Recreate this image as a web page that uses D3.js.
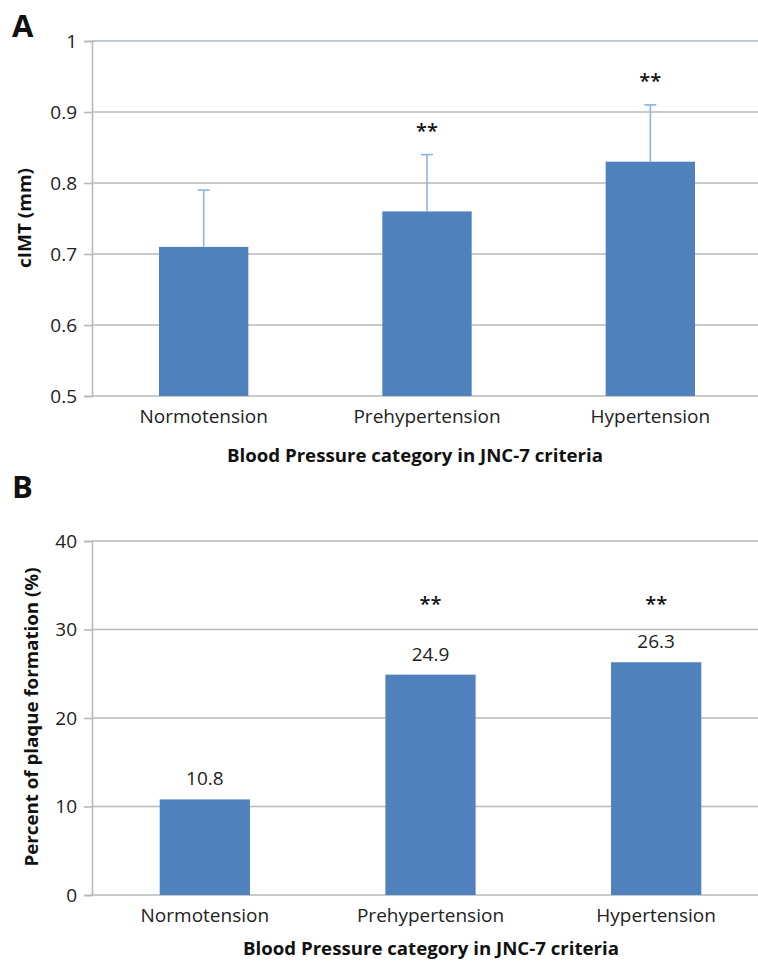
<!DOCTYPE html>
<html><head><meta charset="utf-8">
<script src="https://cdn.jsdelivr.net/npm/d3@7"></script>
<style>body{margin:0;background:#fff}svg{display:block}text{font-family:"Open Sans",sans-serif}</style>
</head><body><svg id="c" width="758" height="962"></svg>
<script>
const categories = ["Normotension", "Prehypertension", "Hypertension"];
const cimtMean = [0.71, 0.76, 0.83];
const cimtSD = [0.08, 0.08, 0.08];
const cimtSig = ["", "**", "**"];
const cimtTicks = [0.5, 0.6, 0.7, 0.8, 0.9, 1];
const plaquePct = [10.8, 24.9, 26.3];
const plaqueSig = ["", "**", "**"];
const plaqueSigLevel = 33;
const plaqueTicks = [0, 10, 20, 30, 40];

const svg = d3.select("#c");
const BAR = "#4F81BD", GRID = "#b9b9b9", ERR = "#8db3e2";

function panel(o) {
  const g = svg.append("g");
  const x = d3.scaleBand().domain(categories).range(o.xr).paddingInner(0.6).paddingOuter(0.3);
  const y = d3.scaleLinear().domain(o.dom).range(o.yr);
  // gridlines
  g.append("g").selectAll("line").data(o.ticks).join("line")
    .attr("x1", o.xr[0]).attr("x2", 758)
    .attr("y1", d => y(d)).attr("y2", d => y(d))
    .attr("stroke", (d, i) => i === o.ticks.length - 1 && o.blueTop ? "#aab6c8" : GRID)
    .attr("stroke-width", 1.6);
  // y axis
  const ax = g.append("g").attr("transform", `translate(${o.xr[0]},0)`)
    .call(d3.axisLeft(y).tickValues(o.ticks).tickSize(8).tickPadding(7).tickFormat(o.fmt));
  ax.select(".domain").attr("stroke", GRID).attr("stroke-width", 1.6);
  ax.selectAll(".tick line").attr("stroke", GRID).attr("stroke-width", 1.6);
  ax.selectAll(".tick text").attr("font-size", 19).attr("fill", "#222").attr("font-family", "Open Sans");
  // bars
  g.append("g").selectAll("rect").data(o.vals).join("rect")
    .attr("x", (d, i) => x(categories[i])).attr("width", x.bandwidth())
    .attr("y", d => y(d)).attr("height", d => y(o.dom[0]) - y(d))
    .attr("fill", BAR);
  // error bars
  if (o.sd) {
    const eg = g.append("g").attr("stroke", ERR).attr("stroke-width", 1.6);
    o.vals.forEach((d, i) => {
      const cx = x(categories[i]) + x.bandwidth() / 2;
      eg.append("line").attr("x1", cx).attr("x2", cx).attr("y1", y(d)).attr("y2", y(d + o.sd[i]));
      eg.append("line").attr("x1", cx - 6).attr("x2", cx + 6).attr("y1", y(d + o.sd[i])).attr("y2", y(d + o.sd[i]));
    });
  }
  // value labels
  if (o.labels) {
    g.append("g").selectAll("text").data(o.vals).join("text")
      .attr("x", (d, i) => x(categories[i]) + x.bandwidth() / 2)
      .attr("y", d => y(d) - 14).attr("text-anchor", "middle")
      .attr("font-size", 19).attr("fill", "#222").text(d => d.toFixed(1));
  }
  // significance
  g.append("g").selectAll("text").data(o.sig).join("text")
    .attr("x", (d, i) => x(categories[i]) + x.bandwidth() / 2)
    .attr("y", (d, i) => o.sigY(i)).attr("text-anchor", "middle")
    .attr("font-size", 20).attr("font-weight", 600).attr("fill", "#111").text(d => d);
  // category labels
  g.append("g").selectAll("text").data(categories).join("text")
    .attr("x", d => x(d) + x.bandwidth() / 2).attr("y", o.catY)
    .attr("text-anchor", "middle").attr("font-size", 19).attr("fill", "#222").text(d => d);
  // x title
  g.append("text").attr("x", o.xtX).attr("y", o.xtY).attr("text-anchor", "middle")
    .attr("font-size", 18).attr("font-weight", "bold").attr("fill", "#111")
    .attr("textLength", o.xtLen).attr("lengthAdjust", "spacingAndGlyphs")
    .text("Blood Pressure category in JNC-7 criteria");
  // y title
  g.append("text").attr("transform", `translate(${o.ytX},${o.ytY}) rotate(-90)`)
    .attr("text-anchor", "middle").attr("font-size", 18).attr("font-weight", "bold").attr("fill", "#111")
    .attr("textLength", o.ytLen).attr("lengthAdjust", "spacingAndGlyphs")
    .text(o.ytitle);
  // panel letter
  g.append("text").attr("x", o.letterX).attr("y", o.letterY)
    .attr("font-family", "Liberation Sans, Arial, sans-serif")
    .attr("font-size", 31).attr("font-weight", "bold").attr("fill", "#111").text(o.letter);
  return {x, y};
}

const yA = d3.scaleLinear().domain([0.5, 1]).range([396, 41]);
panel({
  xr: [92, 762], yr: [396, 41], dom: [0.5, 1], ticks: cimtTicks, blueTop: true,
  fmt: d => d3.format("")(d), vals: cimtMean, sd: cimtSD, labels: false,
  sig: cimtSig, sigY: i => yA(cimtMean[i] + cimtSD[i]) - 17,
  catY: 423, xtX: 415, xtY: 462, xtLen: 376,
  ytX: 31, ytY: 218, ytLen: 100, ytitle: "cIMT (mm)",
  letter: "A", letterX: 12, letterY: 37
});
const yB = d3.scaleLinear().domain([0, 40]).range([895, 541]);
panel({
  xr: [92, 769], yr: [895, 541], dom: [0, 40], ticks: plaqueTicks, blueTop: false,
  fmt: d => d3.format("")(d), vals: plaquePct, labels: true,
  sig: plaqueSig, sigY: i => yB(plaqueSigLevel) + 8,
  catY: 922, xtX: 431, xtY: 955, xtLen: 376,
  ytX: 38, ytY: 717, ytLen: 299, ytitle: "Percent of plaque formation (%)",
  letter: "B", letterX: 12, letterY: 498
});
</script></body></html>
